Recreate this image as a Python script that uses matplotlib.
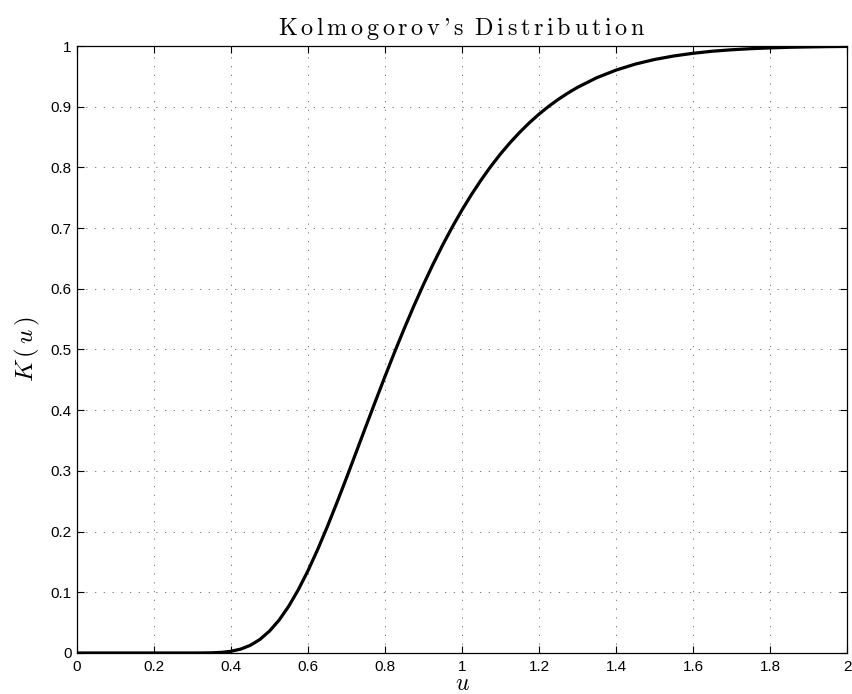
import matplotlib
matplotlib.use("Agg")
import matplotlib.pyplot as plt

# values
u = [0.0, 0.1, 0.2, 0.25, 0.3, 0.325, 0.35, 0.375, 0.4, 0.425, 0.45, 0.475,
     0.5, 0.525, 0.55, 0.575, 0.6, 0.625, 0.65, 0.675, 0.7, 0.725, 0.75,
     0.775, 0.8, 0.825, 0.85, 0.875, 0.9, 0.925, 0.95, 0.975, 1.0, 1.025,
     1.05, 1.075, 1.1, 1.125, 1.15, 1.175, 1.2, 1.225, 1.25, 1.275, 1.3,
     1.35, 1.4, 1.45, 1.5, 1.55, 1.6, 1.65, 1.7, 1.75, 1.8, 1.85, 1.9,
     1.95, 2.0]
K = [0.0, 0.0, 0.0, 0.0, 0.0, 0.00007, 0.0003, 0.0010, 0.0028, 0.0064,
     0.0126, 0.0223, 0.0361, 0.0543, 0.0772, 0.1045, 0.1357, 0.1705,
     0.2080, 0.2477, 0.2887, 0.3307, 0.3729, 0.4147, 0.4558, 0.4960,
     0.5347, 0.5719, 0.6073, 0.6409, 0.6725, 0.7022, 0.7300, 0.7558,
     0.7797, 0.8019, 0.8223, 0.8409, 0.8580, 0.8736, 0.8878, 0.9006,
     0.9121, 0.9225, 0.9319, 0.9478, 0.9603, 0.9702, 0.9778, 0.9836,
     0.9880, 0.9914, 0.9938, 0.9956, 0.9969, 0.9979, 0.9985, 0.9990,
     0.9993]

xticks = [0, 0.2, 0.4, 0.6, 0.8, 1, 1.2, 1.4, 1.6, 1.8, 2]
yticks = [0, 0.1, 0.2, 0.3, 0.4, 0.5, 0.6, 0.7, 0.8, 0.9, 1]
title = "Kolmogorov's Distribution"

plt.rcParams['font.family'] = ['Liberation Sans', 'DejaVu Sans']
plt.rcParams['mathtext.fontset'] = 'cm'
plt.rcParams['axes.unicode_minus'] = False

fig = plt.figure(figsize=(8.52, 6.94), dpi=100)
ax = fig.add_axes([0.0904, 0.0591, 0.9038, 0.8746])

ax.plot(u, K, color='black', lw=2.3, solid_capstyle='round')

ax.set_xlim(0, 2)
ax.set_ylim(0, 1)
ax.set_xticks(xticks)
ax.set_yticks(yticks)
ax.set_xticklabels([f"{t:g}" for t in xticks])
ax.set_yticklabels([f"{t:g}" for t in yticks])
ax.tick_params(direction='in', top=True, right=True, length=5, width=0.8,
               labelsize=11)
ax.tick_params(axis='x', pad=5)
ax.tick_params(axis='y', pad=4)
for s in ax.spines.values():
    s.set_linewidth(0.9)

ax.grid(True, ls=(0, (1.5, 9)), lw=0.6, color='#666666')

# MATLAB's LaTeX title is set with a bit of letter spacing
gap = r"$\hspace{0.17}$"
spaced = gap.join(c if c != " " else r"$\hspace{0.2}$" for c in title)
ax.set_title(spaced, fontfamily='cmr10', fontsize=17.5, pad=8)
ax.set_xlabel(r"$u$", fontsize=17, labelpad=-1)
ax.set_ylabel(r"$K\,(\,u\,)$", fontsize=18, labelpad=6)

fig.savefig("out.png", dpi=100)
